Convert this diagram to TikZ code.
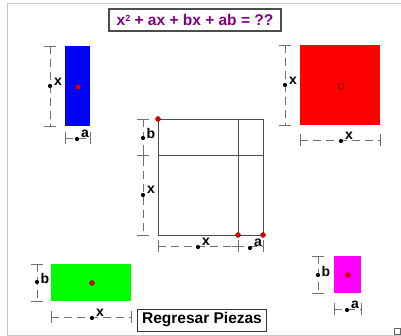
\documentclass[tikz,border=0pt]{standalone}
\usepackage{fontspec}
\setmainfont{Liberation Sans}
\definecolor{titlepurple}{HTML}{800080}
\definecolor{dimgray}{HTML}{707070}
\definecolor{framegray}{HTML}{C8C8C8}
\definecolor{piecegreen}{HTML}{00FF00}
\definecolor{piecemag}{HTML}{FF00FF}
\definecolor{dotred}{HTML}{E00000}
\newcommand\myvdim[5]{% x, y1, y2, label, midy
  \draw[dimline] (#1,#2) -- (#1,#3);
  \draw[dimcap] (#1-6,#2) -- (#1+6,#2);
  \draw[dimcap] (#1-6,#3) -- (#1+6,#3);
  \fill[black] (#1,#5) circle (2.1);
  \node[dimlab] at (#1+8,#5-4) {#4};
}
\newcommand\myhdim[5]{% y, x1, x2, label, midx
  \draw[dimline] (#2,#1) -- (#3,#1);
  \draw[dimcap] (#2,#1-6) -- (#2,#1+6);
  \draw[dimcap] (#3,#1-6) -- (#3,#1+6);
  \fill[black] (#5,#1+1) circle (2.1);
  \node[dimlab] at (#5+8,#1-4) {#4};
}
\tikzset{
  dimline/.style={draw=dimgray, line width=0.9pt, dash pattern=on 8pt off 5pt},
  dimcap/.style={draw=dimgray, line width=0.9pt},
  dimlab/.style={font=\bfseries\fontsize{14}{14}\selectfont, inner sep=0pt},
  cdot/.style={circle, fill=dotred, draw=red!50!black, line width=0.3pt, minimum size=5pt, inner sep=0pt},
  gridline/.style={draw=black!70, line width=0.9pt},
  btn/.style={draw=black!80, line width=1pt, fill=white, inner sep=2pt, font=\bfseries\fontsize{15.5}{15.5}\selectfont}
}
\begin{document}
\begin{tikzpicture}[x=1pt,y=-1pt]
\useasboundingbox (0,0) rectangle (401,336);
% frame
\draw[framegray, line width=1pt] (7,336) -- (7,4) -- (401,4);
\draw[framegray, line width=1pt] (7,335) -- (401,335);
% title
\node[draw=black!70, line width=1.3pt, fill=white, inner sep=2pt, text=titlepurple,
      font=\bfseries\fontsize{15.5}{15.5}\selectfont, minimum width=172pt, minimum height=22pt] (title) at (195,20)
  {x\raisebox{0.5ex}{\fontsize{9}{9}\selectfont 2} + ax + bx + ab = ??};
% blue piece
\fill[blue] (65,46) rectangle (90,126);
\node[cdot] (bluedot) at (78,87) {};
\myvdim{50}{46}{126}{x}{86}
\myhdim{138}{65}{90}{a}{77}
% red piece
\fill[red] (300,45) rectangle (380,125);
\node[circle, fill=red, draw=red!40!black, line width=0.6pt, minimum size=6pt, inner sep=0pt] (reddot) at (341,86) {};
\myvdim{285}{45}{125}{x}{85}
\myhdim{140}{300}{380}{x}{341}
% central diagram
\draw[gridline] (158,119) rectangle (263,235);
\draw[gridline] (158,155) -- (263,155);
\draw[gridline] (238,119) -- (238,235);
\node[cdot] (c1) at (158,119) {};
\node[cdot] (c2) at (238,235) {};
\node[cdot] (c3) at (263,235) {};
\draw[dimline] (143,119) -- (143,235);
\draw[dimcap] (137,119) -- (149,119);
\draw[dimcap] (137,155) -- (149,155);
\draw[dimcap] (137,235) -- (149,235);
\draw[dimcap] (143,149) -- (143,161);
\fill (143,138) circle (2.1);
\node[dimlab] at (151,133) {b};
\fill (143,195) circle (2.1);
\node[dimlab] at (151,190) {x};
\draw[dimline] (158,246) -- (263,246);
\draw[dimcap] (158,240) -- (158,252);
\draw[dimcap] (238,240) -- (238,252);
\draw[dimcap] (263,240) -- (263,252);
\draw[dimcap] (232,246) -- (244,246);
\fill (198,247) circle (2.1);
\node[dimlab] at (206,242) {x};
\fill (250,248) circle (2.1);
\node[dimlab] at (258,243) {a};
% green piece
\fill[piecegreen] (51,264) rectangle (131,301);
\node[cdot] (greendot) at (92,283) {};
\myvdim{37}{264}{301}{b}{282}
\myhdim{317}{51}{131}{x}{92}
% magenta piece
\fill[piecemag] (334,256) rectangle (361,293);
\node[cdot] (magdot) at (348,275) {};
\myvdim{318}{256}{293}{b}{275}
\myhdim{309}{334}{361}{a}{347}
% button
\node[btn, minimum width=129pt, minimum height=22pt] (button) at (202,320) {Regresar Piezas};
% small icon
\node[draw=black!60, fill=white, minimum size=6pt, inner sep=0pt, line width=0.5pt] (icon) at (397,331) {};
\end{tikzpicture}
\end{document}
